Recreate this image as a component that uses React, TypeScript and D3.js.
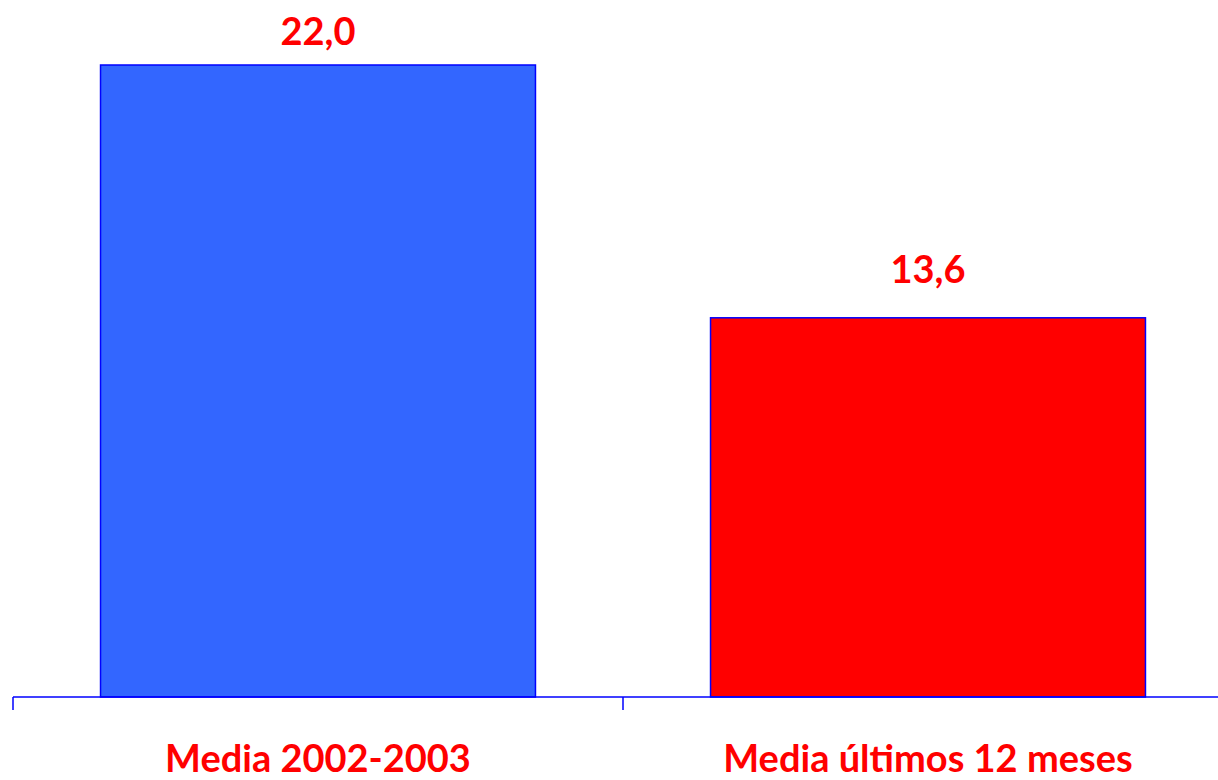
import React from "react";
import * as d3 from "d3";

const categories = ["Media 2002-2003", "Media últimos 12 meses"];
const values = [22.0, 13.6];
const valueLabels = ["22,0", "13,6"];
const barColors = ["#3366FF", "#FF0000"];

const W = 1218;
const H = 780;

export default function App() {
  const x = d3.scaleBand<string>().domain(categories).range([13, 1233]).paddingInner(0.287).paddingOuter(0.1435);
  const y = d3.scaleLinear().domain([1, 22]).range([697, 65]);
  const base = 697;
  const font = "Lato, 'Open Sans', sans-serif";
  const ticks = [13, ...categories.map((c) => (x(c) as number) + x.bandwidth() + (x.step() - x.bandwidth()) / 2)];
  return (
    <svg width={W} height={H} style={{ position: "absolute", left: 0, top: 0, background: "#fff" }}>
      {categories.map((c, i) => (
        <rect
          key={c}
          x={x(c)}
          y={y(values[i])}
          width={x.bandwidth()}
          height={base - y(values[i])}
          fill={barColors[i]}
          stroke="#0000FF"
          strokeWidth={1.5}
        />
      ))}
      <line x1={13} x2={1233} y1={base} y2={base} stroke="#0000FF" strokeWidth={1.5} />
      {ticks.map((t, i) => (
        <line key={i} x1={t} x2={t} y1={base} y2={base + 13} stroke="#0000FF" strokeWidth={1.5} />
      ))}
      {categories.map((c, i) => (
        <text
          key={"v" + c}
          x={(x(c) as number) + x.bandwidth() / 2}
          y={Math.max(y(values[i]) - 35, 45)}
          textAnchor="middle"
          fill="#FF0000"
          fontFamily={font}
          fontWeight="bold"
          fontSize={38}
        >
          {valueLabels[i]}
        </text>
      ))}
      {categories.map((c, i) => (
        <text
          key={"c" + c}
          x={(x(c) as number) + x.bandwidth() / 2}
          y={772}
          textAnchor="middle"
          fill="#FF0000"
          fontFamily={font}
          fontWeight="bold"
          fontSize={38}
        >
          {c}
        </text>
      ))}
    </svg>
  );
}
